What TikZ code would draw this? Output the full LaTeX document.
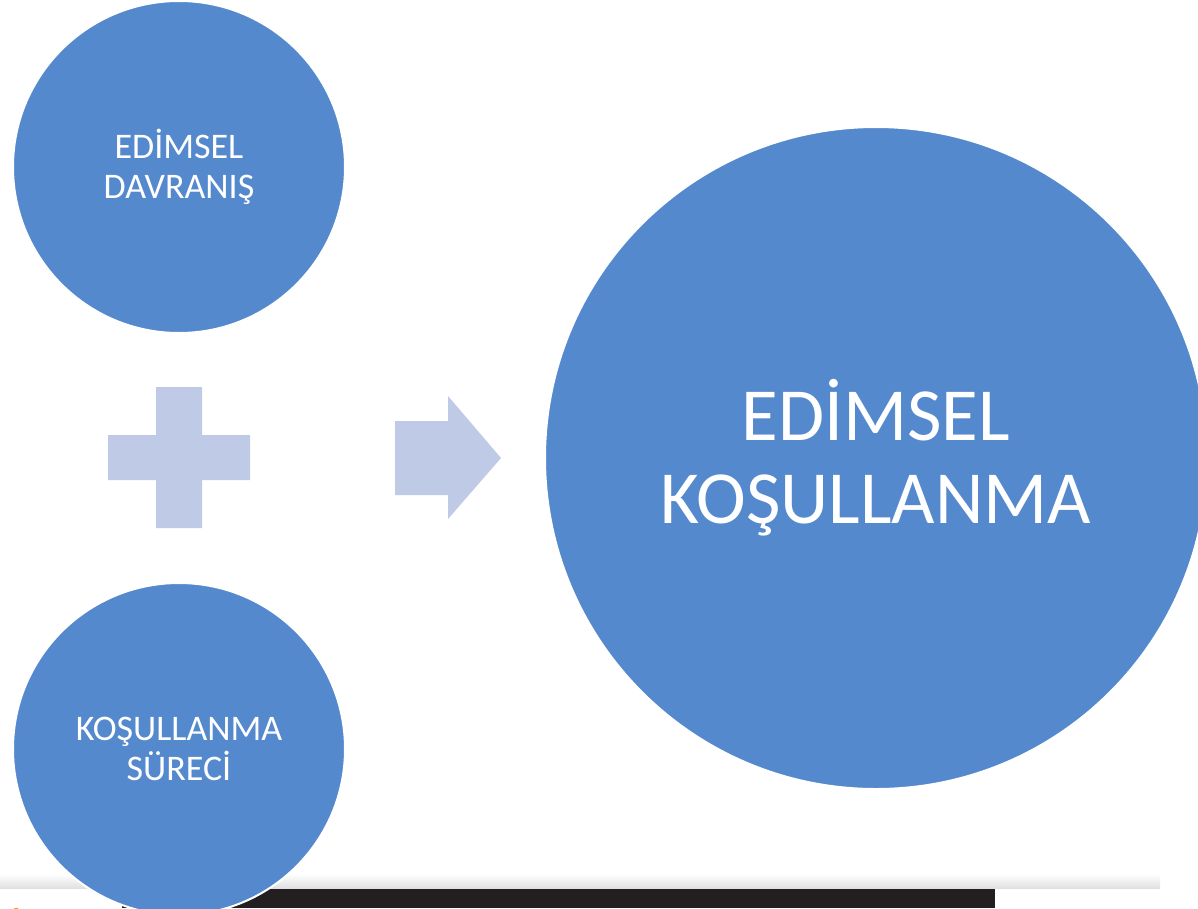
\documentclass[tikz,border=0pt]{standalone}
\usepackage{fontspec}
\setmainfont{Carlito}
\usepackage{xcolor}
\usepackage{tikz}
\usetikzlibrary{shapes.geometric, positioning}
\definecolor{ballblue}{RGB}{85,137,206}
\definecolor{signblue}{RGB}{191,202,230}
\definecolor{barblack}{RGB}{35,31,32}
\definecolor{logoorange}{RGB}{247,168,0}

\begin{document}
\begin{tikzpicture}[x=1pt, y=-1pt]
				% Define styles for the different elements of the diagram
				\tikzstyle{ball} = [circle, draw=white, line width=2pt, fill=ballblue, text=white, align=center, inner sep=0pt]
				\tikzstyle{small ball} = [ball, minimum size=332pt, font=\fontsize{36}{40}\selectfont]
				\tikzstyle{big ball} = [ball, minimum size=662pt, font=\fontsize{75}{83}\selectfont]
				\tikzstyle{sign} = [fill=signblue, draw=none]
				
				\useasboundingbox (0,0) rectangle (1198,908);
				
				% Bottom strip
				\shade[top color=white, bottom color=black!12] (0,874) rectangle (1160,888);
				\fill[barblack] (122,889) rectangle (995,908);
				\fill[white] (995,889) rectangle (1152,908);
				\draw[logoorange, line width=4pt] (16,908) arc (180:110:9);
				
				% Circles
				\node[small ball] (behaviour) at (179,167) {EDİMSEL\\DAVRANIŞ};
				\node[small ball] (process) at (179,749) {KOŞULLANMA\\SÜRECİ};
				\node[big ball] (result) at (876,458) {EDİMSEL\\KOŞULLANMA};
				
				% Plus sign
				\fill[sign] (156,387) -- (202,387) -- (202,435) -- (250,435) -- (250,480) -- (202,480)
					-- (202,528) -- (156,528) -- (156,480) -- (108,480) -- (108,435) -- (156,435) -- cycle;
				
				% Arrow
				\fill[sign] (395,421) -- (448,421) -- (448,396) -- (501,458) -- (448,519) -- (448,495)
					-- (395,495) -- cycle;
\end{tikzpicture}
\end{document}
